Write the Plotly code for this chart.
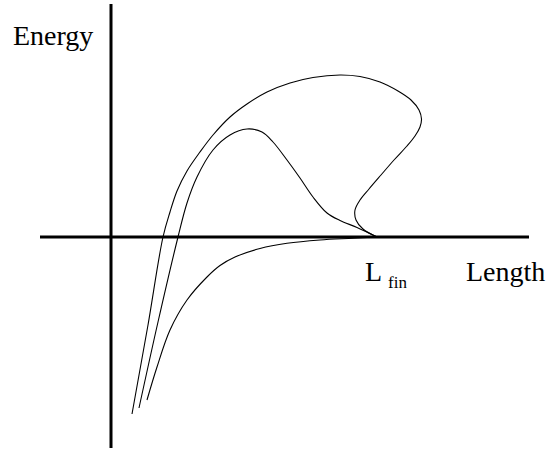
"""
Energy vs length sketch: three curves meeting at L_fin on the length axis.
"""

import plotly.graph_objects as go

# traced curves, origin at the axis crossing (x = length, y = energy)
outer_x = [21, 37, 52, 59, 66, 76, 89, 102, 119, 136, 156, 179, 202, 229, 249, 269,
           287, 300, 308, 310.5, 309, 304, 296, 283, 270, 258, 249, 244, 245, 252, 266]
outer_y = [-177, -88, 0, 25, 46, 66, 85, 102, 120, 133, 145, 154, 159.5, 162, 160.5, 155,
           146, 137, 127, 118, 110, 101, 91, 77, 62, 48, 37, 27, 17, 8, 0]

hump_x = [28, 47, 67, 76, 86, 102, 119, 136, 151, 162, 176, 189, 202, 216, 229, 246, 266]
hump_y = [-171, -85, 0, 34, 60, 87, 102, 108, 105, 95, 77, 59, 40, 24, 16.5, 9.5, 0]

lower_x = [36, 46, 59, 76, 96, 109, 124, 149, 176, 209, 242, 266]
lower_y = [-163, -130, -93, -63, -40, -28.5, -20, -11.5, -6.3, -3, -1.3, 0]

L_FIN = 266
FONT = "Liberation Serif, Times New Roman, serif"

fig = go.Figure()

for xs, ys in [(outer_x, outer_y), (hump_x, hump_y), (lower_x, lower_y)]:
    fig.add_trace(
        go.Scatter(
            x=xs,
            y=ys,
            mode="lines",
            line={"color": "black", "width": 1.1, "shape": "spline", "smoothing": 1.0},
            hoverinfo="skip",
            showlegend=False,
        )
    )

# axes drawn by hand
fig.add_shape(type="line", x0=0, x1=0, y0=-211, y1=233,
              line={"color": "black", "width": 3})
fig.add_shape(type="line", x0=-71, x1=418, y0=0, y1=0,
              line={"color": "black", "width": 3})

# labels
fig.add_annotation(x=-100, y=202, text="Energy", showarrow=False,
                   xanchor="left", yanchor="middle",
                   font={"family": FONT, "size": 28, "color": "black"})
fig.add_annotation(x=353, y=-34, text="Length", showarrow=False,
                   xanchor="left", yanchor="middle",
                   font={"family": FONT, "size": 28, "color": "black"})
fig.add_annotation(x=L_FIN - 14, y=-34, text="L", showarrow=False,
                   xanchor="left", yanchor="middle",
                   font={"family": FONT, "size": 28, "color": "black"})
fig.add_annotation(x=L_FIN + 9, y=-45, text="fin", showarrow=False,
                   xanchor="left", yanchor="middle",
                   font={"family": FONT, "size": 17, "color": "black"})

fig.update_layout(
    width=548,
    height=449,
    margin={"l": 0, "r": 0, "t": 0, "b": 0},
    plot_bgcolor="white",
    paper_bgcolor="white",
    xaxis={"range": [-111, 437], "visible": False, "fixedrange": True},
    yaxis={"range": [-212, 237], "visible": False, "fixedrange": True},
)

# drop the default page margin so the figure sits at the window corner
fig.write_html(
    "out.html",
    config={"displayModeBar": False},
    post_script="document.body.style.margin = '0';",
)
